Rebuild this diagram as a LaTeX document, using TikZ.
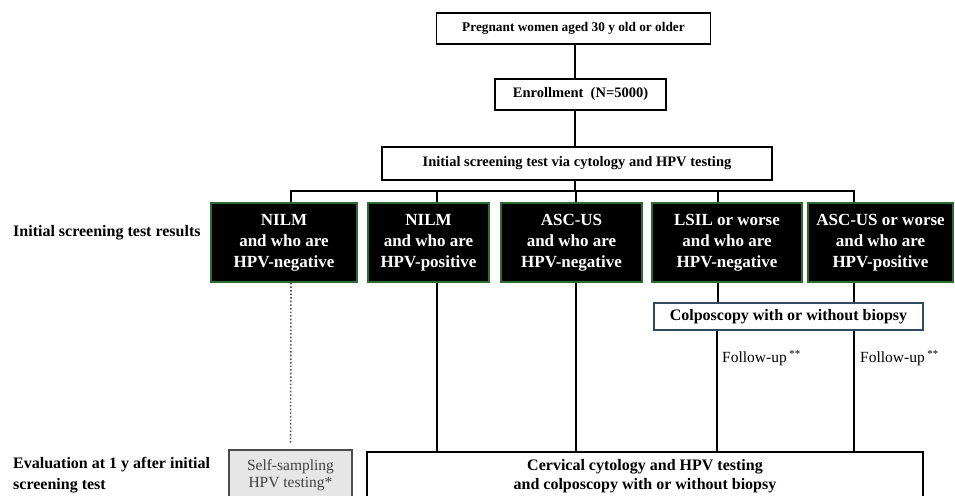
\documentclass[tikz,border=0pt]{standalone}
\usepackage{fontspec}
\setmainfont{Liberation Serif}
\definecolor{resgreen}{HTML}{2E6B30}
\definecolor{colpoblue}{HTML}{2F4B5E}
\definecolor{selfgray}{HTML}{E6E6E6}
\tikzset{
  box/.style  = {draw, line width=1.4pt, inner sep=0pt, align=center,
                 font=\bfseries\fontsize{13.3}{16}\selectfont},
  res/.style  = {draw=resgreen, fill=black, text=white, line width=1.4pt,
                 minimum height=79, inner sep=0pt, align=center,
                 font=\bfseries\fontsize{17}{21}\selectfont},
  conn/.style = {line width=2.7pt},
  lbl/.style  = {anchor=west, align=left, inner sep=0pt,
                 font=\bfseries\fontsize{16}{21}\selectfont},
  fup/.style  = {anchor=west, inner sep=0pt, font=\fontsize{15.5}{17}\selectfont}
}

\begin{document}
\begin{tikzpicture}[x=1pt, y=-1pt]
\useasboundingbox (0,0) rectangle (955,495);
% enrollment part
\node[box, minimum width=274, minimum height=31] (preg) at (573.5,28.5) {Pregnant women aged 30 y old or older};
\node[box, minimum width=171, minimum height=31,
      font=\bfseries\fontsize{14.5}{16}\selectfont] (enrol) at (580.5,94.5) {Enrollment\enspace(N=5000)};
\node[box, minimum width=390, minimum height=33,
      font=\bfseries\fontsize{14.5}{16}\selectfont] (screen) at (577,163.5) {Initial screening test via cytology and HPV testing};
\draw[conn] (575,0 |- preg.south) -- (575,0 |- enrol.north);
\draw[conn] (575,0 |- enrol.south) -- (575,0 |- screen.north);
\coordinate (bar) at (575,191);
\draw[conn] (575,0 |- screen.south) -- (bar);

% screening results
\node[lbl] (lres) at (13,233) {Initial screening test results};
\node[res, minimum width=146] (r1) at (284,242.5) {NILM\\and who are\\HPV-negative};
\node[res, minimum width=121] (r2) at (428.5,242.5) {NILM\\and who are\\HPV-positive};
\node[res, minimum width=141] (r3) at (571.5,242.5) {ASC-US\\and who are\\HPV-negative};
\node[res, minimum width=150] (r4) at (727,242.5) {LSIL or worse\\and who are\\HPV-negative};
\node[res, minimum width=145] (r5) at (880.5,242.5) {ASC-US or worse\\and who are\\HPV-positive};
\foreach \n/\x in {r1/291, r2/437, r3/576, r4/718, r5/854}
  \draw[conn] (bar) -| (\x,0 |- \n.north);

\node[box, draw=colpoblue, minimum width=269, minimum height=27,
      font=\bfseries\fontsize{16}{18}\selectfont] (colpo) at (788.5,316.5) {Colposcopy with or without biopsy};
\draw[conn] (718,0 |- r4.south) -- (718,0 |- colpo.north);
\draw[conn] (854,0 |- r5.south) -- (854,0 |- colpo.north);
\node[fup] (fu1) at (722,358) {Follow-up\,\textsuperscript{**}};
\node[fup] (fu2) at (860,358) {Follow-up\,\textsuperscript{**}};

% evaluation after 1 y
\node[lbl] (leval) at (13,475.5) {Evaluation at 1 y after initial\\screening test};
\node[draw=black!70, fill=selfgray, line width=1.4pt, minimum width=123, minimum height=50,
      inner sep=0pt, align=center, text=black!75,
      font=\fontsize{15.5}{17}\selectfont] (self) at (290.5,475) {Self-sampling\\HPV testing*};
\node[box, minimum width=556, minimum height=48,
      font=\bfseries\fontsize{16}{19}\selectfont] (eval) at (645,476) {Cervical cytology and HPV testing\\and colposcopy with or without biopsy};
\draw[line width=1.6pt, black!65, dotted, shorten >=5pt] (291,0 |- r1.south) -- (self.north);
\draw[conn] (437,0 |- r2.south) -- (437,0 |- eval.north);
\draw[conn] (576,0 |- r3.south) -- (576,0 |- eval.north);
\draw[conn] (717,0 |- colpo.south) -- (717,0 |- eval.north);
\draw[conn] (854,0 |- colpo.south) -- (854,0 |- eval.north);
\end{tikzpicture}
\end{document}
